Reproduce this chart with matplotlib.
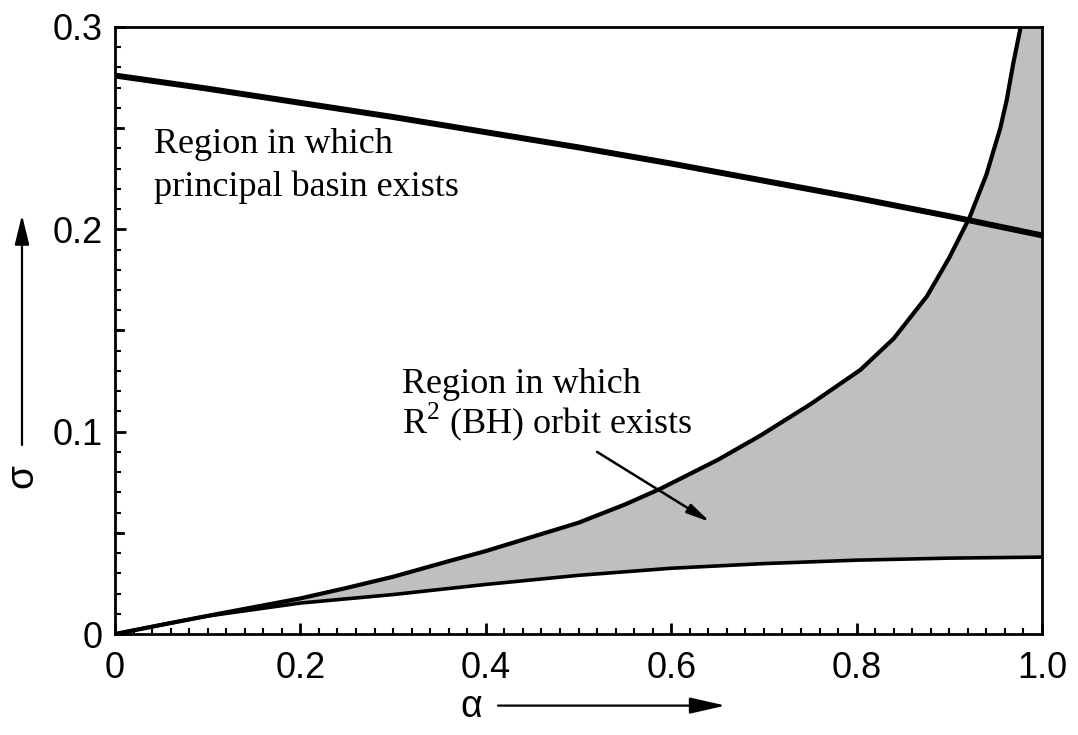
import numpy as np
import matplotlib.pyplot as plt
from matplotlib.ticker import MultipleLocator
from matplotlib.patches import FancyArrowPatch

plt.rcParams['mathtext.fontset'] = 'custom'
plt.rcParams['mathtext.rm'] = 'Liberation Serif'

# boundary of the principal basin region
basin_a = [0.0, 0.1, 0.2, 0.3, 0.4, 0.5, 0.6, 0.7, 0.8, 0.9, 1.0]
basin_s = [0.276, 0.2695, 0.2625, 0.2555, 0.248, 0.2405, 0.2325, 0.224, 0.2155, 0.2065, 0.197]

# upper boundary of the R^2 (BH) orbit region
upper_a = [0.0, 0.05, 0.1, 0.15, 0.2, 0.25, 0.3, 0.36, 0.4, 0.45, 0.5, 0.55, 0.588,
           0.65, 0.696, 0.75, 0.804, 0.84, 0.876, 0.9, 0.922, 0.94, 0.955, 0.962,
           0.969, 0.977]
upper_s = [0.0, 0.0045, 0.009, 0.0133, 0.0176, 0.0228, 0.0283, 0.036, 0.041, 0.048, 0.055,
           0.064, 0.0717, 0.086, 0.098, 0.1135, 0.1305, 0.146, 0.167, 0.186, 0.206, 0.227,
           0.25, 0.264, 0.282, 0.30]

# lower boundary of the R^2 (BH) orbit region
lower_a = [0.0, 0.05, 0.1, 0.2, 0.3, 0.4, 0.5, 0.6, 0.7, 0.8, 0.9, 1.0]
lower_s = [0.0, 0.0046, 0.0089, 0.0153, 0.0195, 0.0245, 0.029, 0.0325, 0.0348, 0.0365, 0.0375, 0.038]

xticks = [0, 0.2, 0.4, 0.6, 0.8, 1.0]
xticklabels = ["0", "0.2", "0.4", "0.6", "0.8", "1.0"]
yticks = [0, 0.1, 0.2, 0.3]
yticklabels = ["0", "0.1", "0.2", "0.3"]

fig = plt.figure(figsize=(10.78, 7.35), dpi=100)
ax = fig.add_axes((0.1067, 0.1374, 0.8599, 0.8259))

# shaded region: up along the upper curve, across the top, back along the lower curve
poly_a = list(upper_a) + [1.0] + list(lower_a[::-1])
poly_s = list(upper_s) + [0.3] + list(lower_s[::-1])
ax.fill(poly_a, poly_s, facecolor='#bfbfbf', edgecolor='none', zorder=1)

ax.plot(basin_a, basin_s, color='k', lw=4.3, solid_capstyle='butt', zorder=3)
ax.plot(upper_a, upper_s, color='k', lw=3.0, solid_joinstyle='round', zorder=3)
ax.plot(lower_a, lower_s, color='k', lw=2.6, solid_joinstyle='round', zorder=3)

ax.set_xlim(0, 1)
ax.set_ylim(0, 0.3)

ax.set_xticks(xticks)
ax.set_xticklabels(xticklabels)
ax.set_yticks(yticks)
ax.set_yticklabels(yticklabels)
ax.xaxis.set_minor_locator(MultipleLocator(0.02))
ax.yaxis.set_minor_locator(MultipleLocator(0.01))
ax.tick_params(which='major', direction='in', length=8, width=2, labelsize=26)
ax.tick_params(which='minor', direction='in', length=4, width=1.5)
ax.tick_params(top=False, right=False)
ax.tick_params(axis='x', pad=12)
ax.tick_params(axis='y', pad=9)
for lab in ax.get_xticklabels() + ax.get_yticklabels():
    lab.set_fontfamily('Liberation Sans')
for sp in ax.spines.values():
    sp.set_linewidth(2)

# medium ticks at 0.05 on the y axis
for yv in [0.05, 0.15, 0.25]:
    ax.plot([0, 0.009], [yv, yv], color='k', lw=2, clip_on=False, zorder=4)

serif = 'Liberation Serif'
ax.text(0.042, 0.2375, "Region in which", family=serif, fontsize=26, va='baseline')
ax.text(0.042, 0.2165, "principal basin exists", family=serif, fontsize=26, va='baseline')
ax.text(0.310, 0.1192, "Region in which", family=serif, fontsize=26, va='baseline')
ax.text(0.310, 0.0994, r"R$^{2}$ (BH) orbit exists", family=serif, fontsize=26, va='baseline')

ax.annotate("", xy=(0.642, 0.0554), xytext=(0.520, 0.090),
            arrowprops=dict(arrowstyle='-|>,head_length=1.4,head_width=0.3',
                            color='k', lw=1.8, shrinkA=0, shrinkB=0), zorder=5)

# axis labels with arrows, in figure coordinates
fig.text(0.0204, 0.352, "σ", family='Liberation Sans', fontsize=28, rotation=90,
         ha='center', va='center')
fig.patches.append(FancyArrowPatch(
    (0.0204, 0.3946), (0.0204, 0.7075), transform=fig.transFigure,
    arrowstyle='-|>,head_length=0.9,head_width=0.22', mutation_scale=20,
    color='k', lw=1.6, shrinkA=0, shrinkB=0))

fig.text(0.437, 0.038, "α", family='Liberation Sans', fontsize=27,
         ha='center', va='center')
fig.patches.append(FancyArrowPatch(
    (0.462, 0.040), (0.673, 0.040), transform=fig.transFigure,
    arrowstyle='-|>,head_length=1.1,head_width=0.25', mutation_scale=20,
    color='k', lw=1.6, shrinkA=0, shrinkB=0))

plt.savefig("out.png", dpi=100)
